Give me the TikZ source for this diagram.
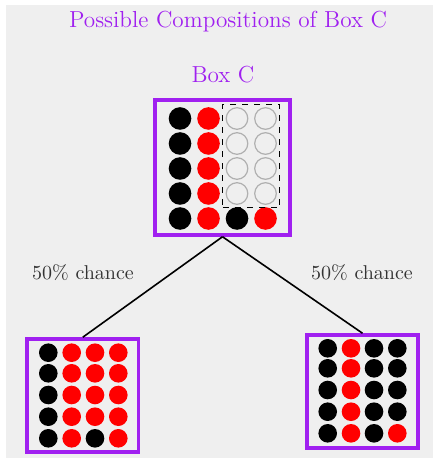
\documentclass[tikz,border=0pt]{standalone}
\usetikzlibrary{positioning,fit}
\definecolor{boxpurple}{RGB}{160,32,240}
\definecolor{bggray}{RGB}{239,239,239}
\definecolor{txtgray}{RGB}{51,51,51}
\definecolor{emptygray}{RGB}{176,176,176}
\begin{document}
\begin{tikzpicture}
[x=0.5pt, y=-0.5pt, font=\fontsize{10}{12}\selectfont]
\tikzstyle{box}=[draw=boxpurple, line width=1.75pt, inner sep=0pt]
\tikzstyle{ball}=[circle, inner sep=0pt]
\tikzstyle{big}=[ball, minimum size=11.3pt]
\tikzstyle{small}=[ball, minimum size=9.3pt]
\tikzstyle{blk}=[fill=black]
\tikzstyle{rd}=[fill=red]
\tikzstyle{empty}=[draw=emptygray, line width=0.6pt, minimum size=10.8pt]
\tikzstyle{heading}=[text=boxpurple, font=\fontsize{11.6}{14}\selectfont]
\tikzstyle{chance}=[text=txtgray]

\useasboundingbox (0,0) rectangle (433,458);
\fill[bggray] (6,5) rectangle (433,458);

\node[heading]	(T)	at (228,22)	{Possible Compositions of Box C};
\node[heading]	(BT)	at (223,75)	{Box C};

% box C
\node[box, minimum width=67.5pt, minimum height=67.5pt]	(B)	at (222.5,167.5) {};
\foreach \i/\x/\up/\low in {1/180/blk/blk, 2/208.5/rd/rd, 3/237/empty/blk, 4/265.5/empty/rd}{
	\foreach \j/\y in {1/118.5, 2/143.5, 3/168.5, 4/193.5}
		\node[big,\up]	(B\i\j)	at (\x,\y) {};
	\node[big,\low]	(B\i5)	at (\x,218.5) {};
}
\node[draw, dashed, thin, inner sep=1.4pt, fit=(B31)(B44)]	(D) {};

% left outcome
\node[box, minimum width=55.75pt, minimum height=56.5pt]	(L)	at (82.75,395.5) {};
\foreach \i/\x/\up/\low in {1/48.3/blk/blk, 2/71.7/rd/rd, 3/95/rd/blk, 4/118.3/rd/rd}{
	\foreach \j/\y in {1/352.7, 2/373.3, 3/395, 4/416.7}
		\node[small,\up]	(L\i\j)	at (\x,\y) {};
	\node[small,\low]	(L\i5)	at (\x,438.3) {};
}

% right outcome
\node[box, minimum width=55.5pt, minimum height=56.5pt]	(R)	at (362.5,391.5) {};
\foreach \i/\x/\up/\low in {1/327.7/blk/blk, 2/351/rd/rd, 3/374/blk/blk, 4/397.3/blk/rd}{
	\foreach \j/\y in {1/348.3, 2/368.3, 3/390, 4/411.7}
		\node[small,\up]	(R\i\j)	at (\x,\y) {};
	\node[small,\low]	(R\i5)	at (\x,433.3) {};
}

\node[chance]	(PL)	at (83,273)	{50\% chance};
\node[chance]	(PR)	at (362,273)	{50\% chance};

\draw [thick] (B.south)--(L.north);
\draw [thick] (B.south)--(R.north);

\end{tikzpicture}
\end{document}
